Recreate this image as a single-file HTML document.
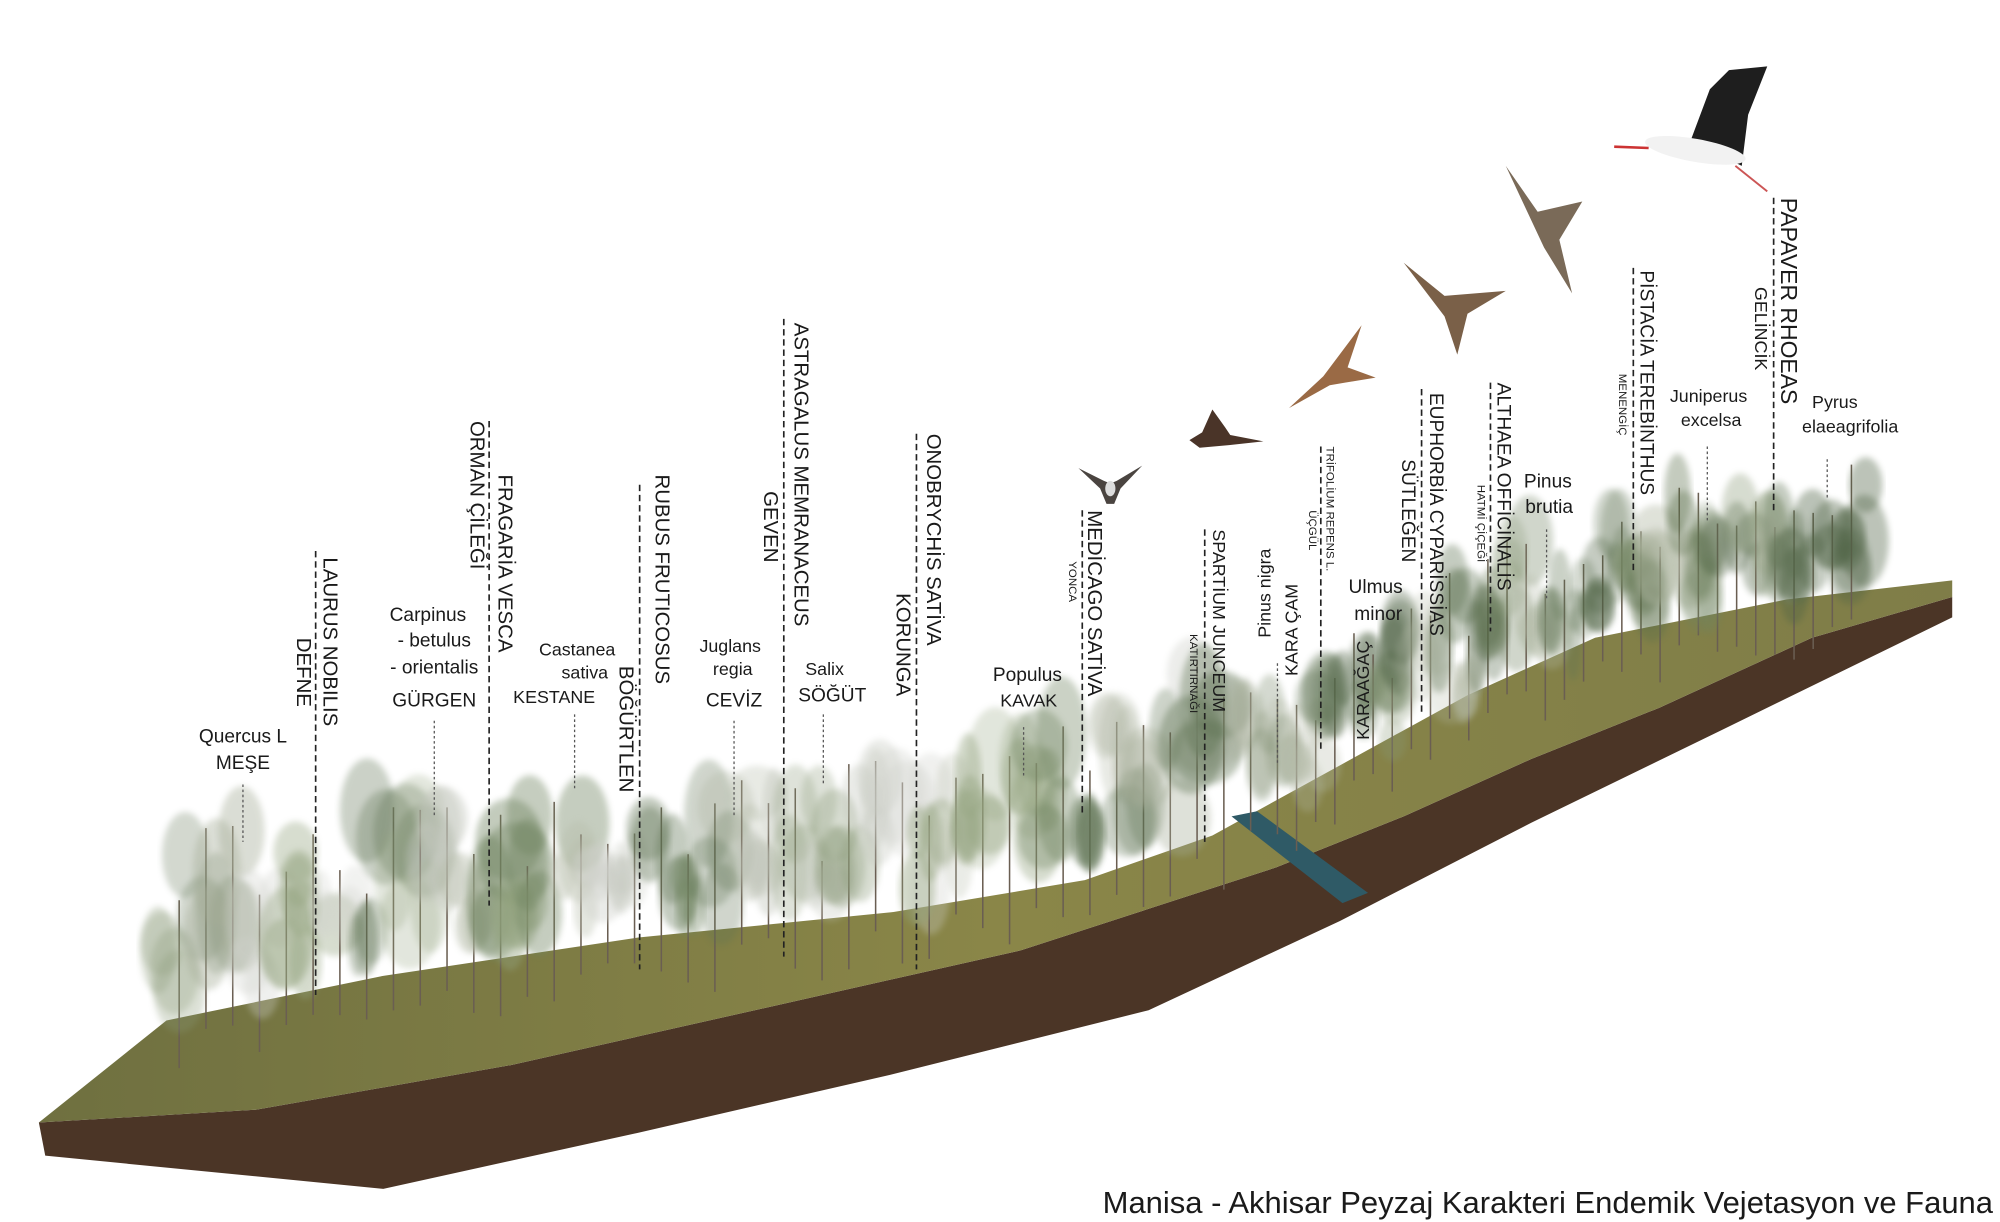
<!DOCTYPE html>
<html><head><meta charset="utf-8"><style>
html,body{margin:0;padding:0;background:#fff;}
svg{display:block;}
text{font-family:"Liberation Sans",sans-serif;fill:#1a1a1a;}
.h{font-size:15px;text-anchor:middle;}
.v{font-size:16px;dominant-baseline:central;}
.s{font-size:9px;dominant-baseline:central;}
.dl{stroke:#222;stroke-width:1.3;stroke-dasharray:5 3;fill:none;}
.dt{stroke:#555;stroke-width:1;stroke-dasharray:2 2;fill:none;}
</style></head><body>
<svg id="s" width="2000" height="1222" viewBox="0 0 1567 958" xmlns="http://www.w3.org/2000/svg">
<defs>
<linearGradient id="g" x1="0" y1="0" x2="1" y2="0"><stop offset="0" stop-color="#6f7040"/><stop offset="0.5" stop-color="#8a8648"/><stop offset="1" stop-color="#7f7d48"/></linearGradient>
<filter id="b"><feGaussianBlur stdDeviation="2.5"/></filter>
</defs>
<path d="M30,880 L200,870 L400,835 L600,790 L800,745 L1000,680 L1100,640 L1200,595 L1300,555 L1420,500 L1530,468 L1530,484 L1350,572 L1200,645 L1050,722 L900,792 L700,842 L500,888 L300,932 L35,906 Z" fill="#4b3526"/>
<path d="M130,800 L300,765 L500,735 L700,715 L850,690 L950,655 L1050,600 L1150,545 L1250,500 L1400,470 L1530,455 L1530,468 L1420,500 L1300,555 L1200,595 L1100,640 L1000,680 L800,745 L600,790 L400,835 L200,870 L30,880 Z" fill="url(#g)"/>
<path d="M965,640 L985,636 L1072,700 L1052,708 Z" fill="#2f5a66"/>
<g id="trees"></g>
<g id="lab">
<text class="h" x="190" y="582">Quercus L</text><text class="h" x="190" y="603">MEŞE</text>
<line class="dt" x1="190" y1="615" x2="190" y2="660"/>
<text class="v" transform="translate(258,437) rotate(90)">LAURUS NOBILIS</text>
<text class="v" transform="translate(237,500) rotate(90)">DEFNE</text>
<line class="dl" x1="247" y1="432" x2="247" y2="780"/>
<text class="h" x="335" y="487">Carpinus</text><text class="h" x="340" y="507">- betulus</text><text class="h" x="340" y="528">- orientalis</text><text class="h" x="340" y="554">GÜRGEN</text>
<line class="dt" x1="340" y1="565" x2="340" y2="640"/>
<text class="v" transform="translate(395,372) rotate(90)">FRAGARİA VESCA</text>
<text class="v" transform="translate(373,330) rotate(90)">ORMAN ÇİLEĞİ</text>
<line class="dl" x1="383" y1="330" x2="383" y2="710"/>
<text class="h" x="452" y="514" style="font-size:14px">Castanea</text><text class="h" x="458" y="532" style="font-size:14px">sativa</text><text class="h" x="434" y="551" style="font-size:14px">KESTANE</text>
<line class="dt" x1="450" y1="560" x2="450" y2="620"/>
<text class="v" transform="translate(518,372) rotate(90)">RUBUS FRUTICOSUS</text>
<text class="v" transform="translate(490,522) rotate(90)">BÖĞÜRTLEN</text>
<line class="dl" x1="501" y1="380" x2="501" y2="760"/>
<text class="h" x="572" y="511" style="font-size:14px">Juglans</text><text class="h" x="574" y="529" style="font-size:14px">regia</text><text class="h" x="575" y="554">CEVİZ</text>
<line class="dt" x1="575" y1="565" x2="575" y2="640"/>
<text class="v" transform="translate(627,253) rotate(90)">ASTRAGALUS MEMRANACEUS</text>
<text class="v" transform="translate(603,385) rotate(90)">GEVEN</text>
<line class="dl" x1="614" y1="250" x2="614" y2="750"/>
<text class="h" x="646" y="529" style="font-size:14px">Salix</text><text class="h" x="652" y="550">SÖĞÜT</text>
<line class="dt" x1="645" y1="560" x2="645" y2="615"/>
<text class="v" transform="translate(731,340) rotate(90)">ONOBRYCHİS SATİVA</text>
<text class="v" transform="translate(707,465) rotate(90)">KORUNGA</text>
<line class="dl" x1="718" y1="340" x2="718" y2="760"/>
<text class="h" x="805" y="534">Populus</text><text class="h" x="806" y="554" style="font-size:14px">KAVAK</text>
<line class="dt" x1="802" y1="570" x2="802" y2="610"/>
<text class="v" transform="translate(857,400) rotate(90)">MEDİCAGO SATİVA</text>
<text class="s" transform="translate(840,440) rotate(90)">YONCA</text>
<line class="dl" x1="848" y1="400" x2="848" y2="640"/>
<text class="v" transform="translate(955,415) rotate(90)" style="font-size:14px">SPARTİUM JUNCEUM</text>
<text class="s" transform="translate(935,497) rotate(90)">KATIRTIRNAĞI</text>
<line class="dl" x1="944" y1="415" x2="944" y2="660"/>
<text class="v" transform="translate(991,500) rotate(-90)" style="font-size:14px">Pinus nigra</text>
<text class="v" transform="translate(1012,530) rotate(-90)" style="font-size:14px">KARA ÇAM</text>
<line class="dt" x1="1001" y1="520" x2="1001" y2="600"/>
<text class="s" transform="translate(1042,350) rotate(90)">TRİFOLİUM REPENS L.</text>
<text class="s" transform="translate(1028,400) rotate(90)">ÜÇGÜL</text>
<line class="dl" x1="1035" y1="350" x2="1035" y2="590"/>
<text class="h" x="1078" y="465">Ulmus</text><text class="h" x="1080" y="486">minor</text>
<text class="v" transform="translate(1068,580) rotate(-90)" style="font-size:14px">KARAAĞAÇ</text>
<text class="v" transform="translate(1125,308) rotate(90)" style="font-size:15px">EUPHORBİA CYPARİSSİAS</text>
<text class="v" transform="translate(1103,360) rotate(90)" style="font-size:15px">SÜTLEĞEN</text>
<line class="dl" x1="1114" y1="305" x2="1114" y2="560"/>
<text class="v" transform="translate(1178,300) rotate(90)" style="font-size:15px">ALTHAEA OFFİCİNALİS</text>
<text class="s" transform="translate(1160,380) rotate(90)">HATMİ ÇİÇEĞİ</text>
<line class="dl" x1="1168" y1="300" x2="1168" y2="495"/>
<text class="h" x="1213" y="382">Pinus</text><text class="h" x="1214" y="402">brutia</text>
<line class="dt" x1="1212" y1="415" x2="1212" y2="470"/>
<text class="v" transform="translate(1290,212) rotate(90)" style="font-size:15px">PİSTACİA TEREBİNTHUS</text>
<text class="s" transform="translate(1271,293) rotate(90)">MENENGİÇ</text>
<line class="dl" x1="1280" y1="210" x2="1280" y2="450"/>
<text class="h" x="1339" y="315" style="font-size:14px">Juniperus</text><text class="h" x="1341" y="334" style="font-size:14px">excelsa</text>
<line class="dt" x1="1338" y1="350" x2="1338" y2="410"/>
<text class="v" transform="translate(1402,155) rotate(90)" style="font-size:18px">PAPAVER RHOEAS</text>
<text class="v" transform="translate(1380,225) rotate(90)" style="font-size:14px">GELİNCİK</text>
<line class="dl" x1="1390" y1="155" x2="1390" y2="400"/>
<text class="h" x="1438" y="320" style="font-size:14px">Pyrus</text><text class="h" x="1450" y="339" style="font-size:14px">elaeagrifolia</text>
<line class="dt" x1="1432" y1="360" x2="1432" y2="390"/>
<text x="1562" y="951" style="font-size:24.3px;text-anchor:end">Manisa - Akhisar Peyzaj Karakteri Endemik Vejetasyon ve Fauna</text>
</g>
<g id="birds">
<g transform="translate(870,377)"><path d="M-25,-10 L-5,0 L0,2 L5,0 L25,-12 L8,6 L3,18 L-3,18 L-8,6 Z" fill="#4a4440"/><ellipse cx="0" cy="6" rx="4" ry="6" fill="#ddd"/></g>
<g transform="translate(958,343)"><path d="M-8,-22 L2,-8 L6,-2 L32,3 L5,6 L-18,8 L-26,2 L-16,-4 Z" fill="#4a3428"/></g>
<g transform="translate(1042,290)"><path d="M-32,30 L-5,5 L25,-35 L14,-2 L36,6 L12,10 L0,12 Z" fill="#9a6a45"/></g>
<g transform="translate(1140,238)"><path d="M-40,-32 L-8,-6 L40,-10 L10,8 L2,40 L-8,10 Z" fill="#7a6048"/></g>
<g transform="translate(1210,180)"><path d="M-30,-50 L-5,-14 L30,-22 L12,8 L22,50 L0,14 Z" fill="#7a6a58"/></g>
<g transform="translate(1330,110)"><path d="M-5,0 L10,-40 L25,-55 L55,-58 L40,-20 L35,20 L15,10 Z" fill="#1e1e1e"/><ellipse cx="0" cy="8" rx="40" ry="9" fill="#f2f2f2" transform="rotate(10)"/><line x1="-65" y1="5" x2="-38" y2="6" stroke="#c33" stroke-width="2"/><line x1="30" y1="20" x2="55" y2="40" stroke="#c55" stroke-width="1.5"/></g>
</g>
</svg>
<script>
var g=document.getElementById('trees');
var bp=[[130,800],[300,765],[500,735],[700,715],[850,690],[950,655],[1050,600],[1150,545],[1250,500],[1400,470],[1530,455]];
function yb(x){for(var i=0;i<bp.length-1;i++){if(x<=bp[i+1][0]){var t=(x-bp[i][0])/(bp[i+1][0]-bp[i][0]);return bp[i][1]+t*(bp[i+1][1]-bp[i][1]);}}return 455;}
var seed=7;function r(){seed=(seed*9301+49297)%233280;return seed/233280;}
var cols=['#8a9a78','#a6ad98','#c2c6bc','#6f8460','#b5bba8','#93a37e','#d0d2cc','#5f7352'];
var colsR=['#5f7352','#6f8460','#4f6444','#8a9a78','#b5bba8','#5a6e4a'];
var ns='http://www.w3.org/2000/svg';
for(var x=140;x<1460;x+=(x>1000?15:21)){
 var by=yb(x)+10+r()*(x<300?60:40),h=110+r()*80;if(x>1000)h=90+r()*60;
 var cl=x>1000?colsR:cols;
 var c=cl[Math.floor(r()*cl.length)],op=0.5+r()*0.35,w=h*(0.2+r()*0.12);
 var t=document.createElementNS(ns,'line');t.setAttribute('x1',x);t.setAttribute('x2',x);t.setAttribute('y1',by);t.setAttribute('y2',by-h*0.85);t.setAttribute('stroke','#6a5e52');t.setAttribute('stroke-width',1.2);g.appendChild(t);
 for(var k=0;k<4;k++){var e=document.createElementNS(ns,'ellipse');e.setAttribute('cx',x+(r()-0.5)*w);e.setAttribute('cy',by-h*0.35-r()*h*0.5);e.setAttribute('rx',w*(0.3+r()*0.25));e.setAttribute('ry',h*(0.14+r()*0.12));e.setAttribute('fill',c);e.setAttribute('opacity',op*0.5);e.setAttribute('filter','url(#b)');g.appendChild(e);}
}
</script>
</body></html>
